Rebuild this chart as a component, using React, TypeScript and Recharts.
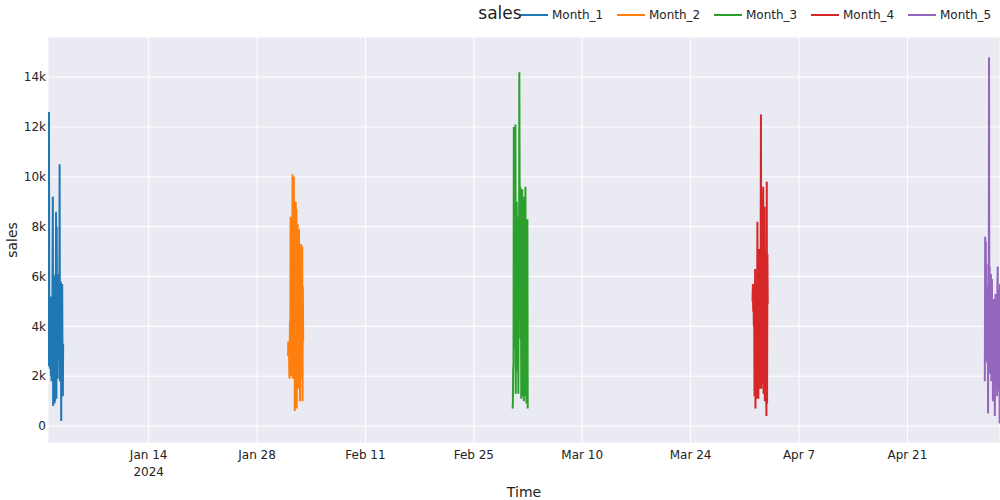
import { LineChart, Line, XAxis, YAxis, CartesianGrid, Legend } from "recharts";

const HOUR = 3600 * 1000;
const TEXT = "rgb(36,36,36)";
const FONT = "'DejaVu Sans', Verdana, sans-serif";

const seriesNames = ["Month_1", "Month_2", "Month_3", "Month_4", "Month_5"];
const seriesColors = ["#1f77b4", "#ff7f0e", "#2ca02c", "#d62728", "#9467bd"];
// each month: hourly readings over its first two days
const monthStarts = ["2024-01-01", "2024-02-01", "2024-03-01", "2024-04-01", "2024-05-01"];

const month1Sales = [
  2400, 4300, 3500, 12600, 3600, 5100, 2300, 4800, 3900, 2000, 5200, 1800, 4500, 3000, 6000, 9200,
  800, 6100, 2200, 4800, 900, 6000, 1000, 5500, 3700, 8600, 1100, 8000, 4200, 6100, 1900, 5200,
  3400, 5800, 2700, 4600, 10500, 1800, 5700, 3600, 5800, 200, 4800, 1200, 5700, 2400, 1200, 3300,
];
const month2Sales = [
  2800, 3400, 2900, 3300, 2100, 1900, 4200, 3000, 8400, 2500, 6200, 2000, 8000, 3400, 10100, 1900,
  7500, 3300, 10000, 2600, 6900, 600, 5800, 2400, 9000, 3000, 8700, 700, 6400, 2200, 8100, 1500,
  5200, 3100, 7900, 2000, 6600, 1000, 5300, 2700, 7300, 1900, 6000, 3200, 7200, 1000, 5600, 3400,
];
const month3Sales = [
  700, 900, 2300, 2500, 12000, 3300, 5200, 3100, 6800, 12100, 1300, 7200, 3600, 9000, 2200, 8400,
  3200, 5000, 1300, 7600, 4300, 14200, 9800, 5200, 9600, 3500, 6800, 1100, 8400, 3300, 9500, 1200,
  7900, 4000, 9200, 1000, 6500, 2500, 8700, 1200, 9600, 3000, 8300, 900, 6200, 2600, 8300, 700,
];
const month4Sales = [
  5000, 5700, 4600, 5300, 4000, 5200, 1200, 4800, 6300, 700, 4500, 2100, 5600, 1100, 3900, 8200,
  2000, 5300, 1100, 6200, 3300, 7100, 1500, 4900, 2800, 6400, 12500, 1500, 7600, 3300, 5800, 1700,
  8300, 9600, 1300, 6500, 2400, 8800, 1000, 5400, 2200, 7000, 1600, 400, 9800, 900, 6900, 4900,
];
const month5Sales = [
  1800, 7600, 2600, 7400, 4200, 6500, 3000, 5600, 2500, 4800, 500, 4300, 3200, 14800, 3500, 6400,
  2100, 5200, 3100, 6100, 1800, 4600, 5900, 2400, 4700, 1000, 3900, 2700, 5100, 1500, 4400, 400,
  3600, 5300, 1900, 4900, 2800, 4000, 1200, 5600, 6400, 2300, 5500, 1400, 4100, 3000, 100, 5700,
];
const allSales = [month1Sales, month2Sales, month3Sales, month4Sales, month5Sales];

const xTickDates = [
  "2024-01-14", "2024-01-28", "2024-02-11", "2024-02-25",
  "2024-03-10", "2024-03-24", "2024-04-07", "2024-04-21",
];
const xTickLabels = ["Jan 14", "Jan 28", "Feb 11", "Feb 25", "Mar 10", "Mar 24", "Apr 7", "Apr 21"];
const yTicks = [0, 2000, 4000, 6000, 8000, 10000, 12000, 14000];

const toMs = (d: string) => Date.parse(d + "T00:00:00Z");

const series = allSales.map((values, s) =>
  values.map((sales, i) => ({ time: toMs(monthStarts[s]) + i * HOUR, sales }))
);
const xStart = series[0][0].time;
const xEnd = series[series.length - 1][series[series.length - 1].length - 1].time;
const xTicks = xTickDates.map(toMs);

const TimeTick = ({ x, y, payload }: any) => {
  const idx = xTicks.indexOf(payload.value);
  return (
    <g>
      <text x={x} y={y + 16} textAnchor="middle" fill={TEXT} fontSize={12} fontFamily={FONT}>
        {xTickLabels[idx]}
      </text>
      {idx === 0 && (
        <text x={x} y={y + 33} textAnchor="middle" fill={TEXT} fontSize={12} fontFamily={FONT}>
          2024
        </text>
      )}
    </g>
  );
};

const LegendRow = ({ payload }: any) => (
  <div style={{ display: "flex", fontFamily: FONT, fontSize: 12, color: TEXT }}>
    {(payload || []).map((p: any) => (
      <div key={p.value} style={{ width: 97.5, display: "flex", alignItems: "center", height: 20 }}>
        <svg width={37} height={20}>
          <line x1={5} x2={33} y1={10} y2={10} stroke={p.color} strokeWidth={2} />
        </svg>
        <span>{p.value}</span>
      </div>
    ))}
  </div>
);

const App = () => {
  return (
    <div style={{ position: "absolute", left: 0, top: 0, width: 1000, height: 500, background: "white" }}>
      <LineChart width={1000} height={500} margin={{ top: 37, right: 0, bottom: 0, left: 0 }}>
        <CartesianGrid stroke="white" strokeWidth={1} fill="#EAEAF2" />
        <XAxis
          type="number"
          dataKey="time"
          domain={[xStart, xEnd]}
          ticks={xTicks}
          interval={0}
          tick={<TimeTick />}
          tickLine={false}
          axisLine={false}
          tickSize={0}
          tickMargin={0}
          height={57}
          allowDataOverflow
        />
        <YAxis
          type="number"
          dataKey="sales"
          domain={[-680, 15610]}
          ticks={yTicks}
          interval={0}
          tickFormatter={(v: number) => (v === 0 ? "0" : v / 1000 + "k")}
          tick={{ fill: TEXT, fontSize: 12, fontFamily: FONT }}
          tickLine={false}
          axisLine={false}
          tickSize={0}
          tickMargin={2}
          width={48}
          allowDataOverflow
        />
        <Legend
          layout="vertical"
          align="center"
          verticalAlign="middle"
          wrapperStyle={{ left: 515, top: 5, width: 485, height: 20 }}
          content={<LegendRow />}
        />
        {series.map((data, s) => (
          <Line
            key={seriesNames[s]}
            data={data}
            dataKey="sales"
            name={seriesNames[s]}
            type="linear"
            stroke={seriesColors[s]}
            strokeWidth={2}
            dot={false}
            activeDot={false}
            isAnimationActive={false}
          />
        ))}
      </LineChart>
      <div
        style={{
          position: "absolute", left: 500, top: 13, transform: "translate(-50%, -50%)",
          fontFamily: FONT, fontSize: 17, color: TEXT, whiteSpace: "nowrap",
        }}
      >
        sales
      </div>
      <div
        style={{
          position: "absolute", left: 12, top: 240, transform: "translate(-50%, -50%) rotate(-90deg)",
          fontFamily: FONT, fontSize: 14, color: TEXT, whiteSpace: "nowrap",
        }}
      >
        sales
      </div>
      <div
        style={{
          position: "absolute", left: 524, top: 492, transform: "translate(-50%, -50%)",
          fontFamily: FONT, fontSize: 14, color: TEXT, whiteSpace: "nowrap",
        }}
      >
        Time
      </div>
    </div>
  );
};

export default App;
